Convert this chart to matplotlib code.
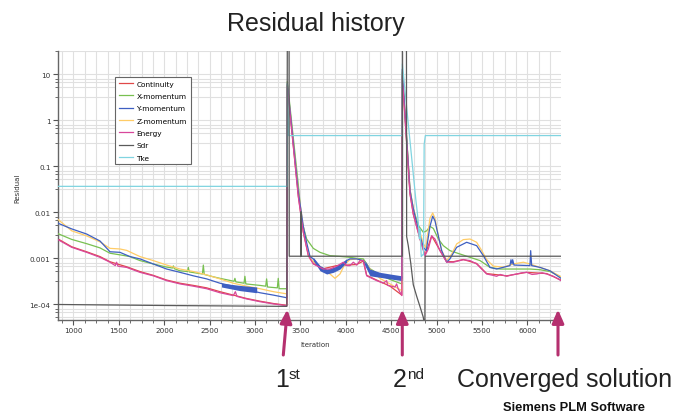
import matplotlib
matplotlib.use("Agg")
import matplotlib.pyplot as plt
from matplotlib.ticker import FixedLocator, LogLocator, MultipleLocator, FuncFormatter

# solver restarts and the final iteration marked by arrows
restart_iters = [3355, 4621]
converged_iter = 6336

# residual histories: (iteration, residual) per equation
cont_it = [824, 980, 1145, 1292, 1402, 1586, 1732, 1879, 2026, 2173, 2320, 2467, 2613, 2760, 2907, 3054, 3201, 3350,
           3355, 3476, 3531, 3586, 3641, 3751, 3898, 4008, 4118, 4192, 4229, 4339, 4486, 4616,
           4621, 4706, 4743, 4816, 4871, 4945, 5036, 5110, 5183, 5293, 5440, 5550, 5771, 5991, 6211, 6369]
cont_val = [0.0027, 0.0018, 0.0014, 0.0011, 0.00085, 0.00066, 0.00052, 0.00043, 0.00034, 0.00029, 0.00026, 0.00023,
            0.00019, 0.00016, 0.000135, 0.000118, 0.000105, 0.000096,
            5.8, 0.023, 0.0038, 0.0012, 0.00078, 0.0006, 0.0007, 0.00072, 0.00074, 0.00088, 0.00043, 0.00034, 0.00025, 0.00016,
            9.5, 0.026, 0.0092, 0.0027, 0.00118, 0.0031, 0.0015, 0.00086, 0.00085, 0.00095, 0.00078, 0.00047, 0.00042, 0.0005, 0.00047, 0.00034]

xmom_it = [824, 980, 1145, 1292, 1402, 1512, 1622, 1732, 1879, 2026, 2090, 2100, 2110, 2173, 2255, 2265, 2275,
           2420, 2430, 2440, 2540, 2613, 2768, 2778, 2788, 2878, 2888, 2898, 3054, 3117, 3127, 3137, 3245, 3255, 3265, 3350,
           3355, 3476, 3513, 3568, 3641, 3715, 3825, 3935, 4045, 4118, 4192, 4265, 4375, 4486, 4616,
           4621, 4706, 4743, 4798, 4853, 4890, 4926, 4963, 5018, 5073, 5146, 5257, 5367, 5477, 5587, 5697, 5844, 6027, 6138, 6248, 6369]
xmom_val = [0.0035, 0.0026, 0.0021, 0.0017, 0.0013, 0.0012, 0.0011, 0.0009, 0.00076, 0.00065, 0.00062, 0.00069, 0.0006,
            0.00054, 0.00052, 0.00064, 0.00051, 0.00046, 0.00072, 0.00045, 0.0004, 0.00037, 0.00032, 0.00037, 0.00031,
            0.00029, 0.00041, 0.00028, 0.00026, 0.00025, 0.00036, 0.00024, 0.00023, 0.00037, 0.00022, 0.00022,
            7.0, 0.04, 0.0065, 0.00265, 0.00166, 0.00136, 0.00115, 0.00111, 0.00106, 0.00101, 0.00098, 0.0006, 0.00044, 0.00035, 0.00028,
            11.0, 0.032, 0.012, 0.0052, 0.0037, 0.004, 0.005, 0.0045, 0.00265, 0.0019, 0.00148, 0.00125, 0.00106, 0.0009,
            0.00064, 0.00059, 0.00059, 0.00059, 0.00057, 0.00052, 0.0004]

ymom_it = [824, 980, 1145, 1292, 1402, 1512, 1622, 1732, 1879, 2026, 2173, 2320, 2467, 2613, 2760, 2907, 3054, 3201, 3350,
           3355, 3476, 3531, 3568, 3605, 3641, 3715, 3788, 3861, 3935, 4008, 4045, 4118, 4192, 4265, 4375, 4486, 4616,
           4621, 4706, 4743, 4816, 4853, 4885, 4926, 4956, 4981, 5018, 5055, 5110, 5146, 5220, 5330, 5440, 5514, 5587, 5660,
           5807, 5818, 5830, 5837, 5851, 6027, 6035, 6046, 6138, 6248, 6369]
ymom_val = [0.0059, 0.0044, 0.0034, 0.0024, 0.0014, 0.00136, 0.0011, 0.00098, 0.00076, 0.00059, 0.0005, 0.00042, 0.00036,
            0.00029, 0.00025, 0.00021, 0.00018, 0.00016, 0.00014,
            6.3, 0.028, 0.005, 0.0022, 0.0011, 0.00098, 0.00062, 0.00052, 0.00056, 0.00068, 0.0009, 0.00098, 0.00098, 0.0009,
            0.0005, 0.00044, 0.0004, 0.00037,
            13.0, 0.03, 0.0119, 0.0031, 0.00175, 0.00148, 0.005, 0.0083, 0.0066, 0.0031, 0.00148, 0.00083, 0.00098, 0.00175,
            0.00225, 0.0019, 0.00115, 0.00064, 0.00059, 0.0007, 0.00094, 0.00076, 0.00094, 0.00072, 0.0007, 0.00148, 0.0007,
            0.00064, 0.00054, 0.00037]

# oscillating stretches of the Y-momentum residual (lower / upper envelope)
ymom_band_it = [[2630, 2834, 3018],
                [3641, 3715, 3788, 3861, 3935, 4008],
                [4210, 4265, 4375, 4486, 4616]]
ymom_band_lo = [[0.00024, 0.0002, 0.00018],
                [0.0009, 0.00054, 0.00046, 0.0005, 0.00059, 0.00083],
                [0.0007, 0.00042, 0.00039, 0.00036, 0.00033]]
ymom_band_hi = [[0.00029, 0.00026, 0.00024],
                [0.00106, 0.0007, 0.00059, 0.00064, 0.00076, 0.00098],
                [0.0009, 0.00059, 0.0005, 0.00046, 0.00042]]

zmom_it = [824, 980, 1145, 1292, 1402, 1512, 1586, 1732, 1879, 2026, 2173, 2320, 2467, 2613, 2760, 2907, 3054, 3201, 3350,
           3355, 3476, 3524, 3568, 3605, 3678, 3751, 3825, 3880, 3935, 3990, 4045, 4118, 4192, 4265, 4375, 4486, 4616,
           4621, 4706, 4743, 4779, 4816, 4853, 4880, 4926, 4956, 4981, 5018, 5055, 5110, 5165, 5220, 5293, 5367, 5440,
           5495, 5550, 5624, 5734, 5844, 5954, 6027, 6138, 6248, 6369]
zmom_val = [0.0072, 0.004, 0.0031, 0.0023, 0.00166, 0.00161, 0.0015, 0.0011, 0.0009, 0.00072, 0.00059, 0.00052, 0.00044,
            0.00036, 0.00029, 0.00025, 0.00022, 0.00019, 0.00017,
            6.0, 0.03, 0.0061, 0.0019, 0.00098, 0.00076, 0.00059, 0.00046, 0.00037, 0.00046, 0.00076, 0.00094, 0.00098, 0.0009,
            0.00059, 0.00037, 0.00028, 0.0002,
            12.0, 0.03, 0.0119, 0.0061, 0.0037, 0.0021, 0.0017, 0.0075, 0.0098, 0.0075, 0.0031, 0.00148, 0.0009, 0.00125,
            0.00207, 0.00257, 0.00265, 0.00225, 0.0015, 0.00095, 0.00068, 0.00065, 0.00076, 0.00083, 0.00076, 0.00064,
            0.00054, 0.0004]

energy_it = [824, 980, 1145, 1292, 1402, 1460, 1475, 1490, 1586, 1732, 1879, 2026, 2173, 2320, 2467, 2613, 2760, 2783,
             2800, 2907, 3054, 3201, 3350,
             3355, 3476, 3531, 3586, 3641, 3751, 3825, 3898, 3972, 4008, 4045, 4082, 4118, 4155, 4192, 4229, 4339, 4412,
             4449, 4460, 4541, 4559, 4575, 4616,
             4621, 4706, 4743, 4816, 4871, 4908, 4945, 4981, 5036, 5110, 5183, 5293, 5367, 5440, 5550, 5620, 5660, 5700,
             5771, 5830, 5881, 5940, 5991, 6050, 6101, 6160, 6211, 6285, 6369]
energy_val = [0.0026, 0.00175, 0.00136, 0.00106, 0.00083, 0.0007, 0.00083, 0.00068, 0.00064, 0.0005, 0.00042, 0.00033,
              0.00028, 0.00025, 0.00022, 0.00018, 0.000156, 0.00019, 0.00015, 0.000132, 0.000115, 0.000103, 0.000094,
              5.5, 0.022, 0.0037, 0.00115, 0.00076, 0.00059, 0.00059, 0.00068, 0.00083, 0.0007, 0.0007, 0.00083, 0.00072,
              0.0009, 0.0009, 0.00042, 0.00033, 0.00029, 0.00033, 0.00026, 0.00024, 0.00028, 0.00022, 0.000156,
              9.0, 0.025, 0.009, 0.00265, 0.00115, 0.00161, 0.0031, 0.00265, 0.00148, 0.00083, 0.00083, 0.00094, 0.0009,
              0.00076, 0.00046, 0.00043, 0.00041, 0.00045, 0.00041, 0.00044, 0.00046, 0.00049, 0.0005, 0.00045, 0.00046,
              0.00049, 0.00046, 0.00041, 0.00033]

sdr_it = [824, 1292, 2026, 3350, 3355, 3374, 3376, 3503, 3505, 3507, 4621, 4622, 4667, 4669, 4687, 4714, 4742, 4780,
          4816, 4852, 4862, 4870, 4872, 6369]
sdr_val = [0.0001, 9.8e-5, 9.5e-5, 9.1e-5, 100, 100, 0.00112, 0.00112, 0.0104, 0.00112, 0.00112, 100, 100, 0.003,
           0.0019, 0.0008, 0.00027, 0.00015, 9e-5, 5.3e-5, 4e-5, 4e-5, 0.00112, 0.00112]

tke_it = [824, 3355, 3356, 3370, 4621, 4622, 4769, 4786, 4797, 4808, 4816, 4830, 4846, 4855, 4862, 4875, 6369]
tke_val = [0.037, 0.037, 6.2, 0.47, 0.47, 17.0, 0.02, 0.0101, 0.0061, 0.0027, 0.0044, 0.0011, 0.0012, 0.0012, 0.3, 0.47, 0.47]

series = [
    ("Continuity", cont_it, cont_val, "#e04848", 2),
    ("X-momentum", xmom_it, xmom_val, "#78c050", 3),
    ("Y-momentum", ymom_it, ymom_val, "#3e5fc2", 4),
    ("Z-momentum", zmom_it, zmom_val, "#ffcc66", 3.5),
    ("Energy", energy_it, energy_val, "#d8479b", 5),
    ("Sdr", sdr_it, sdr_val, "#5a5a5a", 6),
    ("Tke", tke_it, tke_val, "#80d4e0", 5.5),
]

W, H = 690, 414
fig = plt.figure(figsize=(W / 100, H / 100), dpi=100)
ax = fig.add_axes([57.5 / W, 1 - 321 / H, (561 - 57.5) / W, (321 - 52) / H])

handles = []
for name, it, val, color, z in series:
    ln, = ax.plot(it, val, color=color, lw=0.9, zorder=z, label=name)
    handles.append(ln)

for bit, lo, hi in zip(ymom_band_it, ymom_band_lo, ymom_band_hi):
    ax.fill_between(bit, lo, hi, color="#3e5fc2", lw=0, zorder=4)

ax.set_yscale("log")
ax.set_xlim(824, 6369)
ax.set_ylim(4.6e-5, 32.4)

ax.xaxis.set_major_locator(MultipleLocator(500))
ax.xaxis.set_minor_locator(MultipleLocator(125))
ax.yaxis.set_major_locator(FixedLocator([1e-4, 1e-3, 1e-2, 0.1, 1, 10]))
ax.yaxis.set_minor_locator(LogLocator(base=10, subs=(3.2, 5.4, 6.8, 7.8)))
ax.yaxis.set_major_formatter(FuncFormatter(lambda v, p: f"{v:g}" if v >= 1e-3 else f"{v:.0e}"))
ax.yaxis.set_minor_formatter(FuncFormatter(lambda v, p: ""))

ax.grid(True, which="both", color="#e0e0e0", lw=0.8, zorder=0)
ax.set_axisbelow(True)
for s in ["top", "right"]:
    ax.spines[s].set_visible(False)
for s in ["left", "bottom"]:
    ax.spines[s].set_color("#666666")
    ax.spines[s].set_linewidth(1.0)
ax.tick_params(which="major", length=3.5, width=0.8, color="#555555", labelsize=5.2, labelcolor="#333333", pad=1.5)
ax.tick_params(which="minor", length=2, width=0.6, color="#555555")

ax.text((314.7 - 57.5) / 503.5, -(345.5 - 321) / 269, "Iteration", transform=ax.transAxes,
        ha="center", va="center", fontsize=5, color="#333333")
ax.text(-(57.5 - 17) / 503.5, (321 - 188) / 269, "Residual", transform=ax.transAxes,
        ha="center", va="center", rotation=90, fontsize=5, color="#333333")

leg = ax.legend(handles=handles, loc="upper left", bbox_to_anchor=((115 - 57.5) / 503.5, (321 - 77.7) / 269),
                borderaxespad=0, fontsize=5.3, handlelength=2.0, labelspacing=0.84, borderpad=0.5,
                handletextpad=0.4, fancybox=False, framealpha=1, edgecolor="#666666")
leg.get_frame().set_linewidth(0.8)
leg.set_zorder(10)


def px(x, y):
    return x / W, 1 - y / H


sans = ["Liberation Sans", "DejaVu Sans"]
fig.text(*px(316, 30.7), "Residual history", ha="center", va="baseline", fontsize=18, family=sans, color="#222222")

# arrows pointing at the restarts and the converged end
arrow_color = "#b5306f"
tails = [(283.3, 356), (402.3, 356), (558, 356)]
for x_it, (tx, ty) in zip(restart_iters + [converged_iter], tails):
    ax.annotate("", xy=(x_it, (321 - 310.5) / 269), xycoords=("data", "axes fraction"),
                xytext=(tx, H - ty), textcoords="figure pixels",
                arrowprops=dict(arrowstyle="-|>,head_length=0.8,head_width=0.35", mutation_scale=10,
                                lw=2.2, color=arrow_color, shrinkA=0, shrinkB=0),
                annotation_clip=False, zorder=12)

fig.text(*px(275, 387.3), "1", ha="left", va="baseline", fontsize=18, family=sans, color="#222222")
fig.text(*px(289, 368.5), "st", ha="left", va="top", fontsize=11, family=sans, color="#222222")
fig.text(*px(393, 387.3), "2", ha="left", va="baseline", fontsize=18, family=sans, color="#222222")
fig.text(*px(407, 368.5), "nd", ha="left", va="top", fontsize=11, family=sans, color="#222222")
fig.text(*px(456.7, 387.3), "Converged solution", ha="left", va="baseline", fontsize=18, family=sans,
         color="#222222")
fig.text(*px(573.7, 411.5), "Siemens PLM Software", ha="center", va="baseline", fontsize=9.3, family=sans,
         fontweight="bold", color="#111111")

fig.savefig("out.png", dpi=100)
